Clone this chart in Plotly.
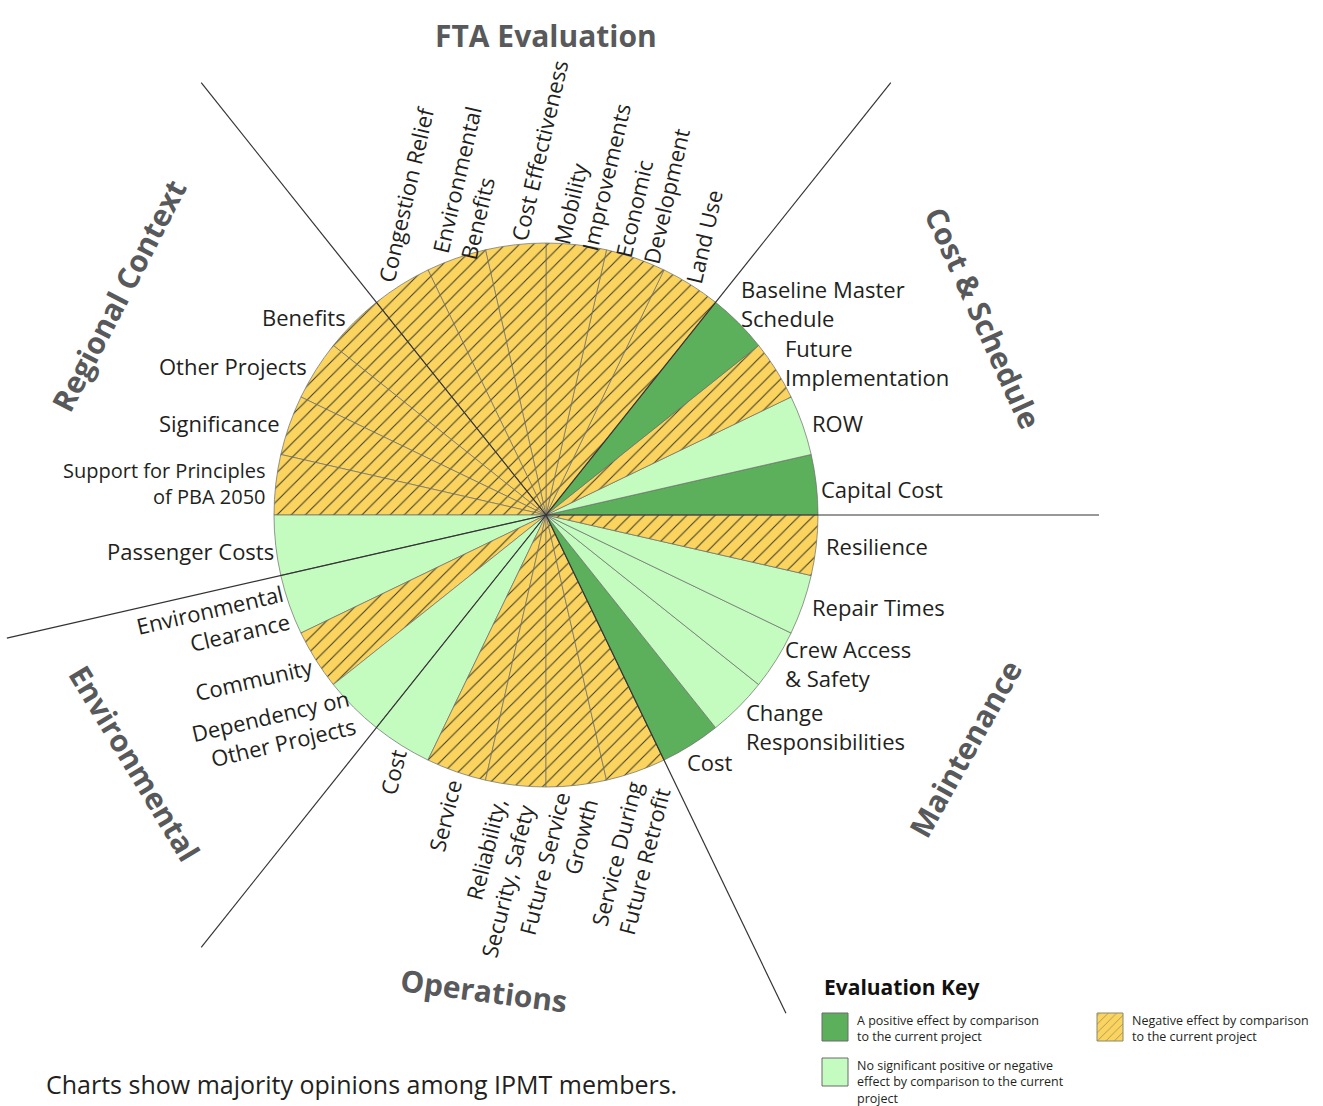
import math
import plotly.graph_objects as go

# ---- data -------------------------------------------------------------
group_names = ["Cost & Schedule", "FTA Evaluation", "Regional Context",
               "Environmental", "Operations", "Maintenance"]
group_sizes = [4, 6, 5, 3, 5, 5]

# criteria, counter-clockwise starting at 3 o'clock
criteria = [
    "Capital Cost", "ROW", "Future<br>Implementation", "Baseline Master<br>Schedule",
    "Land Use", "Economic<br>Development", "Mobility<br>Improvements",
    "Cost Effectiveness", "Environmental<br>Benefits", "Congestion Relief",
    "Benefits", "Other Projects", "Significance",
    "Support for Principles<br>of PBA 2050", "Passenger Costs",
    "Environmental<br>Clearance", "Community", "Dependency on<br>Other Projects",
    "Cost", "Service", "Reliability,<br>Security, Safety",
    "Future Service<br>Growth", "Service During<br>Future Retrofit",
    "Cost", "Change<br>Responsibilities", "Crew Access<br>& Safety",
    "Repair Times", "Resilience",
]
ratings = [
    "positive", "neutral", "negative", "positive",
    "negative", "negative", "negative", "negative", "negative", "negative",
    "negative", "negative", "negative", "negative", "neutral",
    "neutral", "negative", "neutral",
    "neutral", "negative", "negative", "negative", "negative",
    "positive", "neutral", "neutral", "neutral", "negative",
]
weights = [1] * len(criteria)

key_names = ["positive", "neutral", "negative"]
key_text = [
    "A positive effect by comparison<br>to the current project",
    "No significant positive or negative<br>effect by comparison to the current<br>project",
    "Negative effect by comparison<br>to the current project",
]

# ---- styling / geometry ----------------------------------------------
colors = {"positive": "#5DB05B", "neutral": "#C4FCC0", "negative": "#FAD45F"}
hatch = {"positive": "", "neutral": "", "negative": "/"}
FONT = "Open Sans"
INK = "#231F20"
TITLE_INK = "#58595B"

W, H = 1323, 1106
CX, CY, R = 546, 515, 272
CHAR_W = 10.6            # avg char width at 21px

label_style = {"Cost & Schedule": "right", "FTA Evaluation": "up",
               "Regional Context": "left", "Environmental": "tilt",
               "Operations": "down", "Maintenance": "right"}
# small hand adjustments of label placement (px)
label_nudge = {0: (-5, 5), 2: (0, -4), 3: (-5, -14), 7: (2, 9), 9: (-14, 6), 14: (8, 5),
               16: (-8, 5), 22: (12, 0), 23: (-10, 10), 24: (0, 14)}
title_shift = {"Regional Context": -8, "Maintenance": 3, "Cost & Schedule": -1.5,
               "Environmental": -1, "Operations": -1}

step = 360 / sum(weights)
crit_group = [g for g, n in zip(group_names, group_sizes) for _ in range(n)]


def pt(r, deg):
    a = math.radians(deg)
    return CX + r * math.cos(a), CY - r * math.sin(a)


fig = go.Figure()

fig.add_trace(go.Pie(
    labels=[f"{g}: {c.replace('<br>', ' ')}" for g, c in zip(crit_group, criteria)],
    values=weights, sort=False, direction="counterclockwise",
    rotation=90 - weights[0] * step,
    textinfo="none", hoverinfo="label", showlegend=False,
    marker=dict(colors=[colors[r] for r in ratings],
                line=dict(color="#6a6a6a", width=0.7),
                pattern=dict(shape=[hatch[r] for r in ratings],
                             bgcolor=[colors[r] for r in ratings],
                             fgcolor="#3a3a2a", size=10, solidity=0.1)),
    domain=dict(x=[(CX - R) / W, (CX + R) / W],
                y=[1 - (CY + R) / H, 1 - (CY - R) / H]),
))

# group divider lines
start = 0
for n in group_sizes:
    x1, y1 = pt(553, start * step)
    fig.add_shape(type="line", xref="x", yref="y", x0=CX, y0=CY, x1=x1, y1=y1,
                  line=dict(color="#333333", width=1.2), layer="above")
    start += n

# slice labels
for i, (txt, grp) in enumerate(zip(criteria, crit_group)):
    mid = (i + 0.5) * step
    lines = txt.split("<br>")
    size = 20 if "Principles" in txt else 22
    w = max(len(s) for s in lines) * CHAR_W * size / 21
    st = label_style[grp]
    dx, dy = label_nudge.get(i, (0, 0))
    font = dict(family=FONT, size=size, color=INK)
    if st in ("right", "left"):
        x, y = pt(R + 8, mid)
        fig.add_annotation(x=x + dx, y=y + dy, xref="x", yref="y", text=txt, showarrow=False,
                           xanchor="left" if st == "right" else "right", yanchor="middle",
                           align="left" if st == "right" else "right", font=font)
    else:
        ang = {"up": -77, "down": -76, "tilt": -13}[st]
        ux, uy = math.cos(math.radians(-ang)), -math.sin(math.radians(-ang))
        bx, by = pt(R + 6, mid)
        sgn = 1 if st == "up" else -1
        x, y = bx + sgn * w / 2 * ux, by + sgn * w / 2 * uy
        fig.add_annotation(x=x + dx, y=y + dy, xref="x", yref="y", text=txt, showarrow=False,
                           xanchor="center", yanchor="middle", textangle=ang,
                           align="left" if st == "up" else "right", font=font)

# group titles
start = 0
for g, n in zip(group_names, group_sizes):
    mid = (start + n / 2) * step + title_shift.get(g, 0)
    start += n
    x, y = pt(480, mid)
    m = ((mid + 180) % 360) - 180
    ang = 90 - m if m >= 0 else -(90 + m)
    fig.add_annotation(x=x, y=y, xref="x", yref="y", text=f"<b>{g}</b>", showarrow=False,
                       xanchor="center", yanchor="middle", textangle=ang,
                       font=dict(family=FONT, size=30, color=TITLE_INK))

# evaluation key
fig.add_annotation(x=822, y=987, xref="x", yref="y", text="<b>Evaluation Key</b>",
                   showarrow=False, xanchor="left", yanchor="middle",
                   font=dict(family=FONT, size=21, color="#111111"))
key_pos = [(822, 1013), (822, 1058), (1097, 1013)]
for name, txt, (kx, ky) in zip(key_names, key_text, key_pos):
    if hatch[name]:
        fig.add_trace(go.Scatter(
            x=[kx, kx + 26, kx + 26, kx, kx], y=[ky, ky, ky + 28, ky + 28, ky],
            mode="lines", fill="toself", fillcolor=colors[name],
            fillpattern=dict(shape=hatch[name], fgcolor="#555555", size=6, solidity=0.15),
            line=dict(color="#8a8a6a", width=1), hoverinfo="skip", showlegend=False))
    else:
        fig.add_shape(type="rect", xref="x", yref="y", x0=kx, y0=ky, x1=kx + 26, y1=ky + 28,
                      fillcolor=colors[name], line=dict(color="#6a6a6a", width=1))
    fig.add_annotation(x=kx + 33, y=ky - 3, xref="x", yref="y", text=txt,
                       showarrow=False, xanchor="left", yanchor="top", align="left",
                       font=dict(family=FONT, size=12.5, color=INK))

fig.add_annotation(x=44, y=1084, xref="x", yref="y",
                   text="Charts show majority opinions among IPMT members.",
                   showarrow=False, xanchor="left", yanchor="middle",
                   font=dict(family=FONT, size=25, color=INK))

fig.update_xaxes(range=[0, W], visible=False, fixedrange=True)
fig.update_yaxes(range=[H, 0], visible=False, fixedrange=True)
fig.update_layout(width=W, height=H, margin=dict(l=0, r=0, t=0, b=0),
                  paper_bgcolor="white", plot_bgcolor="white")

# drop the browser's default 8px body margin so the figure fills the window
fig.write_html("out.html", config={"displayModeBar": False},
               post_script="document.body.style.margin='0px';")
